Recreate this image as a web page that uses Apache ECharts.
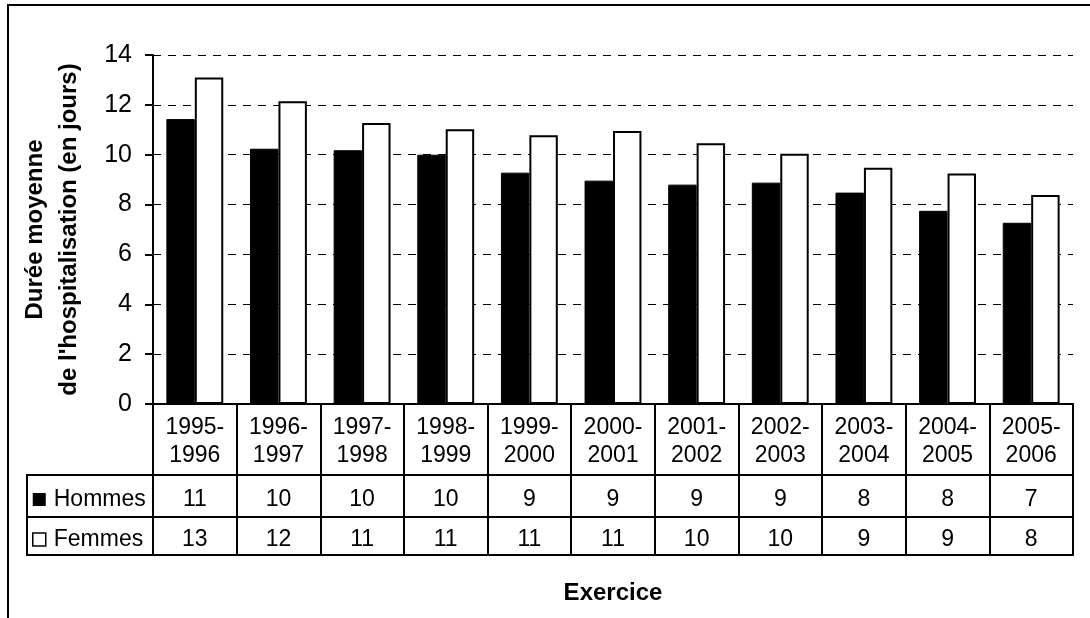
<!DOCTYPE html>
<html>
<head>
<meta charset="utf-8">
<style>
  html, body { margin: 0; padding: 0; background: #fff; }
  #chart { width: 1090px; height: 618px; }
</style>
<script src="https://cdn.jsdelivr.net/npm/echarts@6/dist/echarts.min.js"></script>
</head>
<body>
<div id="chart"></div>
<script>
// Durée moyenne de l'hospitalisation (en jours), par exercice
const categories = ['1995-1996', '1996-1997', '1997-1998', '1998-1999', '1999-2000', '2000-2001',
                    '2001-2002', '2002-2003', '2003-2004', '2004-2005', '2005-2006'];
const hommes = [11.43, 10.24, 10.18, 10.0, 9.28, 8.96, 8.80, 8.88, 8.48, 7.75, 7.27];
const femmes = [13.1, 12.14, 11.27, 11.02, 10.78, 10.95, 10.46, 10.04, 9.48, 9.25, 8.38];
const seriesNames = ['Hommes', 'Femmes'];
const yTicks = { min: 0, max: 14, interval: 2 };

const FONT = '"Liberation Sans", Arial, sans-serif';
const INK = '#000';

// plot area and data-table row heights
const G = { left: 153, right: 17, top: 55, bottom: 214 };
const headerH = 71, row1H = 42, row2H = 38;
const W = 1090, H = 618;
const axisY = H - G.bottom;
const tableLeft = 27;

const chart = echarts.init(document.getElementById('chart'), null, { renderer: 'canvas' });

function tableAxis(offset, tickLen, formatter, margin, extra) {
  return Object.assign({
    type: 'category',
    data: categories,
    gridIndex: 0,
    position: 'bottom',
    offset: offset,
    axisLine: { show: true, lineStyle: { color: INK, width: 2 } },
    axisTick: { show: tickLen > 0, length: tickLen, interval: 0, lineStyle: { color: INK, width: 2 } },
    axisLabel: {
      show: !!formatter, interval: 0, margin: margin,
      formatter: formatter, color: INK, fontFamily: FONT, fontSize: 23, lineHeight: 28
    },
    splitLine: { show: false }
  }, extra || {});
}

const option = {
  animation: false,
  backgroundColor: '#fff',
  grid: Object.assign({ containLabel: false, outerBoundsMode: 'none' }, G),
  legend: {
    orient: 'vertical',
    left: tableLeft + 5,
    top: axisY + headerH + row1H / 2 - 8,
    padding: 0,
    itemWidth: 13,
    itemHeight: 13,
    itemGap: 17,
    selectedMode: false,
    icon: 'rect',
    textStyle: { color: INK, fontFamily: FONT, fontSize: 23, lineHeight: 23, padding: [0, 0, 0, 3] },
    data: [
      { name: seriesNames[0], itemStyle: { color: INK, borderWidth: 0 } },
      { name: seriesNames[1], itemStyle: { color: '#fff', borderColor: INK, borderWidth: 1.5 } }
    ]
  },
  xAxis: [
    // exercise labels (header row of the table)
    tableAxis(0, headerH, v => v.replace('-', '-\n'), 10),
    // Hommes row
    tableAxis(headerH, row1H, (v, i) => String(Math.round(hommes[i])), 11),
    // Femmes row
    tableAxis(headerH + row1H, row2H, (v, i) => String(Math.round(femmes[i])), 9),
    // bottom edge of the table + axis title
    tableAxis(headerH + row1H + row2H, 0, null, 0, {
      name: 'Exercice',
      nameLocation: 'middle',
      nameGap: 26,
      nameTextStyle: { color: INK, fontFamily: FONT, fontSize: 24, fontWeight: 'bold', verticalAlign: 'top' }
    })
  ],
  yAxis: {
    type: 'value',
    min: yTicks.min,
    max: yTicks.max,
    interval: yTicks.interval,
    name: 'Durée moyenne\nde l\'hospitalisation (en jours)',
    nameLocation: 'middle',
    nameRotate: 90,
    nameGap: 67,
    nameTextStyle: { color: INK, fontFamily: FONT, fontSize: 24, fontWeight: 'bold', lineHeight: 34 },
    axisLine: { show: true, lineStyle: { color: INK, width: 2 } },
    axisTick: { show: true, inside: false, length: 8, lineStyle: { color: INK, width: 2 } },
    axisLabel: { color: INK, fontFamily: FONT, fontSize: 25, margin: 21 },
    splitLine: { show: true, lineStyle: { color: INK, width: 1, type: [8, 7] } }
  },
  series: [
    {
      name: seriesNames[0], type: 'bar', data: hommes,
      barGap: '0%', barCategoryGap: '32%',
      itemStyle: { color: INK, borderColor: INK, borderWidth: 1 }
    },
    {
      name: seriesNames[1], type: 'bar', data: femmes,
      barGap: '0%', barCategoryGap: '32%',
      itemStyle: { color: '#fff', borderColor: INK, borderWidth: 2 }
    }
  ],
  graphic: [
    // outer frame (top and left edges)
    { type: 'polyline', shape: { points: [[8, H], [8, 5], [W, 5]] }, style: { stroke: INK, lineWidth: 2, fill: null } },
    // legend column of the data table
    { type: 'rect', shape: { x: tableLeft, y: axisY + headerH, width: G.left - tableLeft, height: row1H + row2H },
      style: { stroke: INK, lineWidth: 2, fill: null } },
    { type: 'line', shape: { x1: tableLeft, y1: axisY + headerH + row1H, x2: G.left, y2: axisY + headerH + row1H },
      style: { stroke: INK, lineWidth: 2 } }
  ]
};

chart.setOption(option);
</script>
</body>
</html>
